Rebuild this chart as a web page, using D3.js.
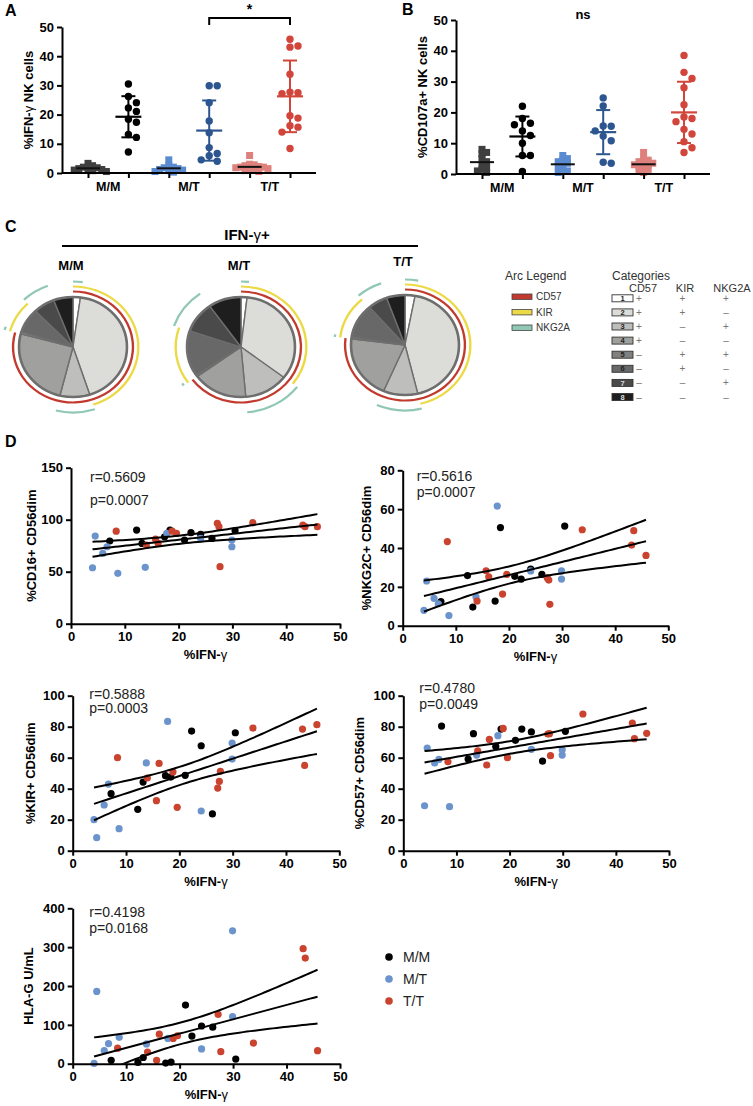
<!DOCTYPE html>
<html><head><meta charset="utf-8">
<script src="https://cdn.jsdelivr.net/npm/d3@7"></script>
<style>
body{margin:0;background:#fff;}
svg{display:block;font-family:"Liberation Sans",Arial,Helvetica,sans-serif;}
</style></head><body>
<svg id="chart" width="753" height="1106"></svg>
<script>
// ---------------- DATA ----------------
const groupNames = ["M/M", "M/T", "T/T"];
// Panel A: %IFN-γ NK cells (unstimulated squares / stimulated circles)
const ifnSqMM = [3.3, 2.5, 2, 1.8, 1.5, 1.5, 1.2, 1, 0.8, 0.5];
const ifnSqMT = [4.5, 2.5, 2, 1.8, 1.5, 1.2, 1, 0.8, 0.5, 0.3];
const ifnSqTT = [6, 3, 2.8, 2.5, 2.2, 2, 2, 1.8, 1.5, 1.2, 1, 0.8, 0.5];
const ifnMM = [7.2, 12.2, 13.2, 17.4, 18.4, 21.1, 22.3, 24.1, 26.2, 30.5];
const ifnMT = [4.0, 4.5, 5.9, 6.7, 8.7, 13.8, 17.8, 24.1, 29.9, 29.9];
const ifnTT = [8.4, 14.0, 15.7, 16.2, 18.8, 19.6, 27.2, 27.5, 27.7, 33.8, 43.1, 43.5, 45.8];
// Panel B: %CD107a+ NK cells
const cdSqMM = [8, 7, 6.5, 5, 4, 3, 2, 1.5, 1, 0.5];
const cdSqMT = [6, 5, 4.5, 4, 3.5, 3, 2.5, 1.5, 1, 0.5];
const cdSqTT = [7, 5, 4.5, 4, 3.5, 3.5, 3, 3, 2.5, 2, 1.5, 1, 0.5];
const cdMM = [22, 18, 16.5, 16, 14, 12.5, 10, 6, 6, 0.8];
const cdMT = [24.7, 22.1, 15.6, 15.5, 14, 12.3, 10.8, 3.5, 3.8];
const cdTT = [38.5, 33, 31, 28, 22.5, 18.5, 18, 17, 14.5, 13, 10.5, 8.5, 7];
// Panel C: pie categories (% of IFN-γ+ cells)
const pieCategories = ["1", "2", "3", "4", "5", "6", "7", "8"];
const cd57Sign  = ["+", "+", "+", "+", "–", "–", "–", "–"];
const kirSign   = ["+", "+", "–", "–", "+", "+", "–", "–"];
const nkg2aSign = ["+", "–", "+", "–", "+", "–", "+", "–"];
const pieMM = [2.2, 42.8, 8.9, 25.3, 0.8, 7.8, 6.4, 5.8];
const pieMT = [1.8, 33.6, 13.2, 16.4, 0.6, 14.6, 10.0, 9.8];
const pieTT = [3.0, 43.2, 10.3, 20.5, 0.6, 11.0, 5.9, 5.5];
const arcLegend = ["CD57", "KIR", "NKG2A"];
// Panel D: y values, same order as ifnMM / ifnMT / ifnTT
const cd16MM = [79.5, 90, 77.2, 83.6, 90, 80.4, 87.5, 85.9, 82, 89.4];
const cd16MT = [53.8, 84.3, 67.6, 74, 48.4, 54.2, 86.9, 82, 80.4, 74];
const cd16TT = [89, 75.6, 81.4, 77.2, 89, 86.9, 96.5, 93.3, 54.8, 97.1, 94.9, 93.3, 93.3];
const nkg2cMM = [12.4, 25.8, 9.6, 12.7, 50.5, 25.4, 24, 29.2, 26.4, 51.3];
const nkg2cMT = [7.9, 23, 14.1, 11.3, 5.2, 14.8, 61.6, 28.2, 28.2, 24];
const nkg2cTT = [43.3, 12.7, 28.3, 25.2, 16.3, 26.4, 24.7, 23.5, 11, 49.4, 41.5, 48.9, 36.2];
const kirMM = [36.8, 26.7, 44.3, 48.4, 47.5, 48.6, 77.2, 67.7, 23.7, 76.1];
const kirMT = [20, 8.4, 29.5, 43, 14.2, 56.6, 83.4, 25.6, 69.5, 59.1];
const kirTT = [60, 46.9, 32.3, 56.3, 50.8, 28, 40.4, 44.7, 51.2, 79.1, 78.5, 55, 81.3];
const cd57MM = [80.4, 59.1, 75.5, 67.3, 78.5, 71.2, 78.5, 76.6, 57.8, 77];
const cd57MT = [29, 66.2, 56.6, 58.9, 28.4, 61.7, 74.2, 65.4, 61.7, 65.2];
const cd57TT = [57.4, 64.5, 55.3, 71.8, 78.9, 60, 75.3, 75.5, 61.3, 88.2, 82.4, 72.3, 75.7];
const hlagMM = [8.6, 3.4, 16, 1.7, 4.3, 151, 71, 97, 94, 12];
const hlagMT = [0.9, 186, 34, 51.5, 68, 51, 65, 38, 342, 121];
const hlagTT = [40, 30, 8.6, 76, 65, 72, 127, null, 31, 53, 296, 272, 33.5];
const xTicks = [0, 10, 20, 30, 40, 50];

// ---------------- STYLE ----------------
const svg = d3.select("#chart");
const colSq = ["#3f3f3f", "#5a8bd0", "#de807c"];
const colCirc = ["#000000", "#2d5690", "#d2453b"];
const colD = ["#000000", "#6b93cc", "#c9432f"];
const pieColors = ["#ffffff", "#dcdcd8", "#bebebc", "#a0a09e", "#808080", "#686868", "#4a4a4a", "#1e1e1e"];
const arcColors = ["#c23a2e", "#ecd946", "#90c7b5"];
const T95 = 2.04;

function txt(x, y, s, size, weight, anchor) {
  return svg.append("text").attr("x", x).attr("y", y).attr("font-size", size)
    .attr("font-weight", weight || 400).attr("text-anchor", anchor || "start").text(s);
}
function styleAxis(g) {
  g.selectAll("path,line").attr("stroke", "#000").attr("stroke-width", 2);
  g.selectAll("text").attr("font-size", 13).attr("font-weight", 700).attr("fill", "#000")
    .attr("font-family", "'Liberation Sans',Arial,sans-serif");
}
function swarm(vals, yScale, minDist, step) {
  const pts = vals.map(v => ({ v, y: yScale(v), dx: 0 }));
  const placed = [];
  pts.slice().sort((a, b) => a.y - b.y).forEach(p => {
    for (let k = 0; k < 40; k++) {
      const off = k === 0 ? 0 : (k % 2 ? 1 : -1) * Math.ceil(k / 2) * step;
      if (placed.every(q => Math.hypot(q.dx - off, q.y - p.y) >= minDist)) { p.dx = off; break; }
    }
    placed.push(p);
  });
  return pts;
}

// Panel letters
txt(5, 16, "A", 16, 700);
txt(402, 15, "B", 16, 700);
txt(5, 232, "C", 16, 700);
txt(5, 447, "D", 16, 700);

// ---------------- PANELS A / B ----------------
const colKeys = ["MMu", "MMs", "MTu", "MTs", "TTu", "TTs"];
function dotPanel(cfg) {
  const { x0, yB, yT, cols, ylabel, ylx } = cfg;
  const xs = d3.scalePoint().domain(colKeys).range([x0 + 26, x0 + 228]);
  const y = d3.scaleLinear().domain([0, 50]).range([yB, yT]);
  const g = svg.append("g");
  cols.forEach((c, i) => {
    const cx = xs(colKeys[i]);
    const sq = c.shape === "sq";
    const pts = swarm(c.vals, y, sq ? 4.6 : 7.4, sq ? 4.6 : 8);
    pts.forEach(p => {
      if (sq) g.append("rect").attr("x", cx + p.dx - 3.5).attr("y", p.y - 3.5)
        .attr("width", 7).attr("height", 7).attr("fill", c.color);
      else g.append("circle").attr("cx", cx + p.dx).attr("cy", p.y).attr("r", 3.7).attr("fill", c.color);
    });
    const m = d3.mean(c.vals);
    if (sq) {
      g.append("line").attr("x1", cx - 12).attr("x2", cx + 12).attr("y1", y(m)).attr("y2", y(m))
        .attr("stroke", "#111").attr("stroke-width", 2);
    } else {
      const sd = d3.deviation(c.vals);
      const lc = c.line;
      g.append("line").attr("x1", cx).attr("x2", cx).attr("y1", y(m - sd)).attr("y2", y(m + sd)).attr("stroke", lc).attr("stroke-width", 2);
      [m - sd, m + sd].forEach(v => g.append("line").attr("x1", cx - 7).attr("x2", cx + 7).attr("y1", y(v)).attr("y2", y(v)).attr("stroke", lc).attr("stroke-width", 2));
      g.append("line").attr("x1", cx - 13).attr("x2", cx + 13).attr("y1", y(m)).attr("y2", y(m)).attr("stroke", lc).attr("stroke-width", 2.2);
    }
  });
  const ya = g.append("g").attr("transform", `translate(${x0},0)`)
    .call(d3.axisLeft(y).tickValues([0, 10, 20, 30, 40, 50]).tickSize(5).tickSizeOuter(0).tickPadding(3));
  styleAxis(ya);
  const xa = g.append("g").attr("transform", `translate(0,${yB})`)
    .call(d3.axisBottom(xs).tickSize(5).tickFormat(""));
  xa.select(".domain").remove();
  styleAxis(xa);
  g.append("line").attr("x1", x0).attr("x2", x0 + 254).attr("y1", yB).attr("y2", yB).attr("stroke", "#000").attr("stroke-width", 2);
  groupNames.forEach((gn, k) => {
    const mx = (xs(colKeys[2 * k]) + xs(colKeys[2 * k + 1])) / 2;
    txt(mx, yB + 18, gn, 12.5, 700, "middle");
  });
  svg.append("text").attr("transform", `translate(${ylx},${(yB + yT) / 2}) rotate(-90)`)
    .attr("text-anchor", "middle").attr("dy", "0.35em").attr("font-size", 13).attr("font-weight", 700)
    .call(t => ylabel(t));
  return xs;
}
const xsA = dotPanel({
  x0: 62, yB: 173, yT: 27, ylx: 28,
  cols: [
    { vals: ifnSqMM, shape: "sq", color: colSq[0] }, { vals: ifnMM, color: colCirc[0], line: "#000" },
    { vals: ifnSqMT, shape: "sq", color: colSq[1] }, { vals: ifnMT, color: colCirc[1], line: colCirc[1] },
    { vals: ifnSqTT, shape: "sq", color: colSq[2] }, { vals: ifnTT, color: colCirc[2], line: colCirc[2] }],
  ylabel: t => { t.append("tspan").text("%IFN-"); t.append("tspan").attr("font-weight", 400).text("γ"); t.append("tspan").text(" NK cells"); }
});
// significance bracket
{
  const xa = xsA("MTs"), xb = xsA("TTs");
  svg.append("path").attr("d", `M${xa},25V18H${xb}V25`).attr("fill", "none").attr("stroke", "#000").attr("stroke-width", 2);
  txt((xa + xb) / 2, 14, "*", 14, 700, "middle");
}
const xsB = dotPanel({
  x0: 456, yB: 174, yT: 20, ylx: 422,
  cols: [
    { vals: cdSqMM, shape: "sq", color: colSq[0] }, { vals: cdMM, color: colCirc[0], line: "#000" },
    { vals: cdSqMT, shape: "sq", color: colSq[1] }, { vals: cdMT, color: colCirc[1], line: colCirc[1] },
    { vals: cdSqTT, shape: "sq", color: colSq[2] }, { vals: cdTT, color: colCirc[2], line: colCirc[2] }],
  ylabel: t => t.text("%CD107a+ NK cells")
});
txt((xsB("MTu") + xsB("MTs")) / 2, 19, "ns", 13, 700, "middle");

// ---------------- PANEL C ----------------
{
  const t = svg.append("text").attr("x", 247).attr("y", 240).attr("text-anchor", "middle").attr("font-size", 15).attr("font-weight", 700);
  t.append("tspan").text("IFN-"); t.append("tspan").attr("font-weight", 400).text("γ"); t.append("tspan").text("+");
  svg.append("line").attr("x1", 62).attr("x2", 418).attr("y1", 246).attr("y2", 246).attr("stroke", "#000").attr("stroke-width", 2);
}
const markerSigns = [cd57Sign, kirSign, nkg2aSign];
const markerRad = [55.5, 60.5, 65.5];
function pieChart(cx, cy, vals, label, ly) {
  txt(cx - 2, ly, label, 13, 700, "middle");
  const g = svg.append("g").attr("transform", `translate(${cx},${cy}) scale(1.08,1)`);
  const arcs = d3.pie().sort(null).value(d => d)(vals);
  const arcGen = d3.arc().innerRadius(0).outerRadius(50);
  g.selectAll("path.slice").data(arcs).join("path").attr("class", "slice").attr("d", arcGen)
    .attr("fill", (d, i) => pieColors[i]).attr("stroke", "#6e6e6e").attr("stroke-width", 1.3).attr("stroke-linejoin", "round");
  g.append("circle").attr("r", 50).attr("fill", "none").attr("stroke", "#6e6e6e").attr("stroke-width", 2.4);
  markerSigns.forEach((signs, m) => {
    const ranges = [];
    arcs.forEach((a, i) => {
      if (signs[i] !== "+") return;
      const last = ranges[ranges.length - 1];
      if (last && Math.abs(last[1] - a.startAngle) < 1e-9) last[1] = a.endAngle;
      else ranges.push([a.startAngle, a.endAngle]);
    });
    ranges.forEach(([s, e]) => g.append("path")
      .attr("d", d3.arc().innerRadius(markerRad[m] - 1.1).outerRadius(markerRad[m] + 1.1).startAngle(s).endAngle(e)())
      .attr("fill", arcColors[m]));
  });
}
pieChart(73, 347, pieMM, "M/M", 270);
pieChart(241, 347, pieMT, "M/T", 270);
pieChart(405, 345, pieTT, "T/T", 266);

// Arc legend
{
  const t = txt(505, 280, "Arc Legend", 12, 400); t.attr("fill", "#333");
  arcLegend.forEach((n, i) => {
    const yy = 296.7 + i * 15.5;
    svg.append("rect").attr("x", 512).attr("y", yy - 2.7).attr("width", 20).attr("height", 5.4)
      .attr("fill", arcColors[i]).attr("stroke", "#444").attr("stroke-width", 0.8);
    txt(536, yy, n, 10, 400).attr("dy", "0.35em").attr("fill", "#333");
  });
  txt(612, 280, "Categories", 12, 400).attr("fill", "#333");
  [["CD57", 643], ["KIR", 685], ["NKG2A", 732]].forEach(([n, x]) => txt(x, 291.7, n, 11, 400, "middle").attr("fill", "#333"));
  const signX = [639, 682.5, 726];
  pieCategories.forEach((c, i) => {
    const yy = 298.3 + i * 14.1;
    svg.append("rect").attr("x", 612).attr("y", yy - 3.5).attr("width", 21).attr("height", 7)
      .attr("fill", pieColors[i]).attr("stroke", "#333").attr("stroke-width", 0.9);
    txt(622.5, yy, c, 7.5, 700, "middle").attr("dy", "0.35em").attr("fill", i >= 6 ? "#ddd" : "#222");
    [cd57Sign, kirSign, nkg2aSign].forEach((s, k) =>
      txt(signX[k], yy, s[i], 10, 400, "middle").attr("dy", "0.35em").attr("fill", "#777"));
  });
}

// ---------------- PANEL D ----------------
function scatter(cfg) {
  const { x0, x1, yB, yT, yMax, yStep, ys, ylabel, ylx, rTxt, pTxt, tx, ry, py } = cfg;
  const x = d3.scaleLinear().domain([0, 50]).range([x0, x1]);
  const y = d3.scaleLinear().domain([0, yMax]).range([yB, yT]);
  const g = svg.append("g");
  const xsets = [ifnMM, ifnMT, ifnTT];
  const ax = [], ay = [];
  xsets.forEach((xs, k) => xs.forEach((xv, i) => {
    const yv = ys[k][i];
    if (yv == null) return;
    ax.push(xv); ay.push(yv);
    g.append("circle").attr("cx", x(xv)).attr("cy", y(yv)).attr("r", 3.6).attr("fill", colD[k]);
  }));
  // regression with 95% confidence band
  const n = ax.length, mx = d3.mean(ax), my = d3.mean(ay);
  let sxx = 0, sxy = 0;
  ax.forEach((xv, i) => { sxx += (xv - mx) ** 2; sxy += (xv - mx) * (ay[i] - my); });
  const b = sxy / sxx, a = my - b * mx;
  let sse = 0; ax.forEach((xv, i) => { sse += (ay[i] - a - b * xv) ** 2; });
  const s = Math.sqrt(sse / (n - 2));
  const band = xv => T95 * s * Math.sqrt(1 / n + (xv - mx) ** 2 / sxx);
  const [xmin, xmax] = d3.extent(ax);
  const samples = d3.range(0, 61).map(i => xmin + (xmax - xmin) * i / 60);
  const clipId = "clip" + Math.round(x0) + Math.round(yB);
  svg.append("clipPath").attr("id", clipId).append("rect").attr("x", x0).attr("y", yT - 20).attr("width", x1 - x0).attr("height", yB - yT + 20);
  const lg = g.append("g").attr("clip-path", `url(#${clipId})`);
  [-1, 0, 1].forEach(sgn => {
    lg.append("path").datum(samples)
      .attr("d", d3.line().x(d => x(d)).y(d => y(a + b * d + sgn * band(d))))
      .attr("fill", "none").attr("stroke", "#000").attr("stroke-width", 2);
  });
  const ya = g.append("g").attr("transform", `translate(${x0},0)`)
    .call(d3.axisLeft(y).tickValues(d3.range(0, yMax + 1, yStep)).tickSize(5).tickSizeOuter(0).tickPadding(3));
  styleAxis(ya);
  const xa = g.append("g").attr("transform", `translate(0,${yB})`)
    .call(d3.axisBottom(x).tickValues(xTicks).tickSize(5).tickSizeOuter(0).tickPadding(3));
  styleAxis(xa);
  const xt = svg.append("text").attr("x", (x0 + x1) / 2).attr("y", yB + 31).attr("dy", "0.35em")
    .attr("text-anchor", "middle").attr("font-size", 13).attr("font-weight", 700);
  xt.append("tspan").text("%IFN-"); xt.append("tspan").attr("font-weight", 400).text("γ");
  svg.append("text").attr("transform", `translate(${ylx},${(yB + yT) / 2}) rotate(-90)`)
    .attr("text-anchor", "middle").attr("dy", "0.35em").attr("font-size", 13).attr("font-weight", 700).text(ylabel);
  txt(tx, ry, rTxt, 14, 400).attr("fill", "#222");
  txt(tx, py, pTxt, 14, 400).attr("fill", "#222");
}
scatter({ x0: 71, x1: 340, yB: 623.7, yT: 467.7, yMax: 150, yStep: 50, ys: [cd16MM, cd16MT, cd16TT],
  ylabel: "%CD16+ CD56dim", ylx: 31, rTxt: "r=0.5609", pTxt: "p=0.0007", tx: 90, ry: 482, py: 505 });
scatter({ x0: 402.7, x1: 668.3, yB: 625.7, yT: 470.3, yMax: 80, yStep: 20, ys: [nkg2cMM, nkg2cMT, nkg2cTT],
  ylabel: "%NKG2C+ CD56dim", ylx: 366, rTxt: "r=0.5616", pTxt: "p=0.0007", tx: 416.7, ry: 481, py: 497 });
scatter({ x0: 72.7, x1: 339.3, yB: 850.7, yT: 695.7, yMax: 100, yStep: 20, ys: [kirMM, kirMT, kirTT],
  ylabel: "%KIR+ CD56dim", ylx: 30, rTxt: "r=0.5888", pTxt: "p=0.0003", tx: 89.3, ry: 699, py: 713 });
scatter({ x0: 403.3, x1: 669, yB: 850.7, yT: 695.7, yMax: 100, yStep: 20, ys: [cd57MM, cd57MT, cd57TT],
  ylabel: "%CD57+ CD56dim", ylx: 359, rTxt: "r=0.4780", pTxt: "p=0.0049", tx: 419.3, ry: 693, py: 709 });
scatter({ x0: 72.7, x1: 340, yB: 1063.7, yT: 908.3, yMax: 400, yStep: 100, ys: [hlagMM, hlagMT, hlagTT],
  ylabel: "HLA-G U/mL", ylx: 28, rTxt: "r=0.4198", pTxt: "p=0.0168", tx: 89.3, ry: 917, py: 933 });

// D legend
groupNames.forEach((gn, i) => {
  const yy = 957 + i * 22;
  svg.append("circle").attr("cx", 389).attr("cy", yy).attr("r", 3.8).attr("fill", colD[i]);
  txt(403, yy, gn, 14, 400).attr("dy", "0.35em").attr("fill", "#222");
});
</script>
</body></html>
